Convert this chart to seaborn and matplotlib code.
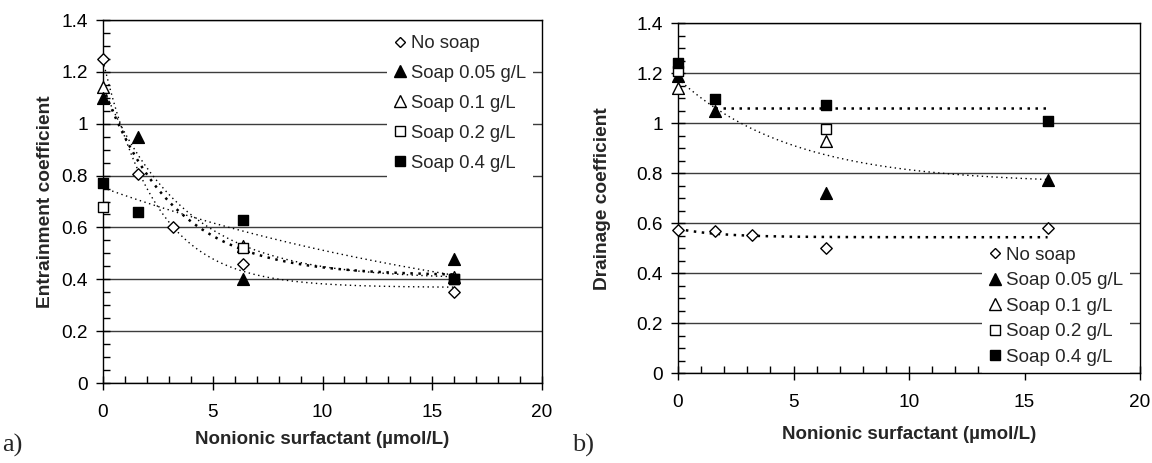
import numpy as np
import matplotlib
matplotlib.use("Agg")
import matplotlib.pyplot as plt
import seaborn as sns
from matplotlib.lines import Line2D
from matplotlib.ticker import MultipleLocator, FixedLocator, FixedFormatter

# ---------------- data ----------------
series_names = ["No soap", "Soap 0.05 g/L", "Soap 0.1 g/L", "Soap 0.2 g/L", "Soap 0.4 g/L"]

# (a) Entrainment coefficient
ent_nosoap_x = [0, 1.6, 3.2, 6.4, 16]
ent_nosoap_y = [1.25, 0.805, 0.60, 0.46, 0.35]
ent_s005_x = [0, 1.6, 6.4, 16]
ent_s005_y = [1.10, 0.95, 0.40, 0.48]
ent_s01_x = [0, 6.4, 16]
ent_s01_y = [1.14, 0.53, 0.41]
ent_s02_x = [0, 6.4, 16]
ent_s02_y = [0.68, 0.52, 0.40]
ent_s04_x = [0, 1.6, 6.4, 16]
ent_s04_y = [0.77, 0.66, 0.63, 0.40]

# (b) Drainage coefficient
dr_nosoap_x = [0, 1.6, 3.2, 6.4, 16]
dr_nosoap_y = [0.574, 0.570, 0.552, 0.50, 0.58]
dr_s005_x = [0, 1.6, 6.4, 16]
dr_s005_y = [1.19, 1.051, 0.721, 0.773]
dr_s01_x = [0, 6.4]
dr_s01_y = [1.143, 0.93]
dr_s02_x = [0, 6.4]
dr_s02_y = [1.208, 0.977]
dr_s04_x = [0, 1.6, 6.4, 16]
dr_s04_y = [1.241, 1.098, 1.073, 1.008]

x_ticks = [0, 5, 10, 15, 20]
y_ticks = [0, 0.2, 0.4, 0.6, 0.8, 1.0, 1.2, 1.4]
y_ticklabels = ["0", "0.2", "0.4", "0.6", "0.8", "1", "1.2", "1.4"]
x_label = "Nonionic surfactant (\u00b5mol/L)"
ylabel_a = "Entrainment coefficient"
ylabel_b = "Drainage coefficient"

# ---------------- style ----------------
sns.set_style("white")
plt.rcParams["font.family"] = ["Liberation Sans", "DejaVu Sans"]

fig = plt.figure(figsize=(11.52, 4.63), dpi=100)
axA = fig.add_axes([103 / 1152, 1 - 383 / 463, 439 / 1152, 363 / 463])
axB = fig.add_axes([678 / 1152, 1 - 373.3 / 463, 462 / 1152, 350 / 463])

marker_style = {
    "No soap": dict(marker="D", s=34, facecolor="white", edgecolor="black", lw=1.0),
    "Soap 0.05 g/L": dict(marker="^", s=72, facecolor="black", edgecolor="black", lw=1.0),
    "Soap 0.1 g/L": dict(marker="^", s=72, facecolor="white", edgecolor="black", lw=1.0),
    "Soap 0.2 g/L": dict(marker="s", s=50, facecolor="white", edgecolor="black", lw=1.0),
    "Soap 0.4 g/L": dict(marker="s", s=50, facecolor="black", edgecolor="black", lw=1.0),
}


def exp_trend(xs, ys, x_from=0.0, x_to=16.0):
    """Least-squares fit y = a + b*exp(-k x) (grid over k)."""
    x = np.asarray(xs, float)
    y = np.asarray(ys, float)
    best = None
    for k in np.linspace(0.05, 3.0, 600):
        A = np.column_stack([np.ones_like(x), np.exp(-k * x)])
        coef, *_ = np.linalg.lstsq(A, y, rcond=None)
        sse = float(np.sum((A @ coef - y) ** 2))
        if best is None or sse < best[0]:
            best = (sse, k, coef)
    _, k, (a, b) = best
    xf = np.linspace(x_from, x_to, 200)
    return xf, a + b * np.exp(-k * xf)


def trend(ax, xf, yf, lw, dot):
    sns.lineplot(x=xf, y=yf, ax=ax, color="black", lw=lw,
                 linestyle=(0, dot), estimator=None, sort=False, zorder=2)


def points(ax, xs, ys, name):
    st = marker_style[name]
    sns.scatterplot(x=xs, y=ys, ax=ax, marker=st["marker"], s=st["s"],
                    facecolor=st["facecolor"], edgecolor=st["edgecolor"],
                    linewidth=st["lw"], zorder=4, clip_on=False)


# ---------------- panel a ----------------
xf, yf = exp_trend(ent_nosoap_x, ent_nosoap_y)
trend(axA, xf, yf, 1.0, (1, 2.5))
xf, yf = exp_trend(ent_s005_x, ent_s005_y)
trend(axA, xf, yf, 1.8, (1, 2.2))
xf, yf = exp_trend(ent_s01_x, ent_s01_y)
trend(axA, xf, yf, 1.0, (1, 2.5))
xf, yf = exp_trend(ent_s04_x, ent_s04_y)
trend(axA, xf, yf, 1.0, (1, 2.5))

points(axA, ent_nosoap_x, ent_nosoap_y, "No soap")
points(axA, ent_s01_x, ent_s01_y, "Soap 0.1 g/L")
points(axA, ent_s005_x, ent_s005_y, "Soap 0.05 g/L")
points(axA, ent_s02_x, ent_s02_y, "Soap 0.2 g/L")
points(axA, ent_s04_x, ent_s04_y, "Soap 0.4 g/L")

# ---------------- panel b ----------------
xf, yf = exp_trend(dr_nosoap_x, dr_nosoap_y)
trend(axB, xf, yf, 1.8, (1, 2.2))
pool_x = dr_s005_x + dr_s01_x + dr_s02_x
pool_y = dr_s005_y + dr_s01_y + dr_s02_y
xf, yf = exp_trend(pool_x, pool_y)
trend(axB, xf, yf, 1.0, (1, 2.5))
s04_pos = [y for x, y in zip(dr_s04_x, dr_s04_y) if x > 0]
xf = np.array([1.6, 16.0])
trend(axB, xf, np.full(2, np.mean(s04_pos)), 1.8, (1, 2.2))

points(axB, dr_nosoap_x, dr_nosoap_y, "No soap")
points(axB, dr_s005_x, dr_s005_y, "Soap 0.05 g/L")
points(axB, dr_s01_x, dr_s01_y, "Soap 0.1 g/L")
points(axB, dr_s02_x, dr_s02_y, "Soap 0.2 g/L")
points(axB, dr_s04_x, dr_s04_y, "Soap 0.4 g/L")

# ---------------- axes formatting ----------------
leg_ms = {"No soap": 5.5, "Soap 0.05 g/L": 8.0, "Soap 0.1 g/L": 8.0,
          "Soap 0.2 g/L": 6.8, "Soap 0.4 g/L": 6.8}


def handles():
    hs = []
    for n in series_names:
        st = marker_style[n]
        hs.append(Line2D([], [], ls="none", marker=st["marker"], ms=leg_ms[n],
                         mfc=st["facecolor"], mec="black", mew=1.0))
    return hs


for ax, ylab in ((axA, ylabel_a), (axB, ylabel_b)):
    ax.set_xlim(0, 20)
    ax.set_ylim(0, 1.4)
    ax.xaxis.set_major_locator(FixedLocator(x_ticks))
    ax.xaxis.set_minor_locator(MultipleLocator(1))
    ax.yaxis.set_major_locator(FixedLocator(y_ticks))
    ax.yaxis.set_major_formatter(FixedFormatter(y_ticklabels))
    ax.yaxis.set_minor_locator(MultipleLocator(0.05))
    ax.tick_params(which="major", direction="inout", length=10, width=1,
                   color="black", labelsize=13.7, labelcolor="black")
    ax.tick_params(which="minor", direction="in", length=5, width=1, color="black")
    ax.tick_params(axis="x", which="major", pad=10)
    ax.tick_params(axis="y", which="major", pad=6)
    ax.tick_params(bottom=True, left=True, which="both")
    ax.grid(axis="y", which="major", color="#3c3c3c", lw=1.0, zorder=0)
    ax.set_axisbelow(True)
    for sp in ax.spines.values():
        sp.set_visible(True)
        sp.set_color("black")
        sp.set_linewidth(1.0)
    ax.set_xlabel(x_label, fontsize=13.5, fontweight="bold")
    ax.set_ylabel(ylab, fontsize=13.8, fontweight="bold")

axA.xaxis.set_label_coords(0.5, -0.133)
axA.yaxis.set_label_coords(-0.112, 0.5)
axB.xaxis.set_label_coords(0.5, -0.15)
axB.yaxis.set_label_coords(-0.145, 0.5)

legA = axA.legend(handles(), series_names, loc="upper left",
                  bbox_to_anchor=(0.647, 0.979), frameon=True, fancybox=False,
                  framealpha=1, facecolor="white", edgecolor="none",
                  fontsize=13.3, handlelength=0.58, handletextpad=0.3,
                  labelspacing=0.7, borderpad=0.4, borderaxespad=0)
legA.set_zorder(1)
legB = axB.legend(handles(), series_names, loc="lower right",
                  bbox_to_anchor=(0.979, 0.0), frameon=True, fancybox=False,
                  framealpha=1, facecolor="white", edgecolor="none",
                  fontsize=13.5, handlelength=0.58, handletextpad=0.3,
                  labelspacing=0.45, borderpad=0.4, borderaxespad=0)
legB.set_zorder(1)

fig.text(2 / 1152, 1 - 452 / 463, "a)", fontsize=19,
         family=["Liberation Serif", "DejaVu Serif"], ha="left", va="baseline")
fig.text(572 / 1152, 1 - 452 / 463, "b)", fontsize=19,
         family=["Liberation Serif", "DejaVu Serif"], ha="left", va="baseline")

fig.savefig("out.png", dpi=100, facecolor="white")
